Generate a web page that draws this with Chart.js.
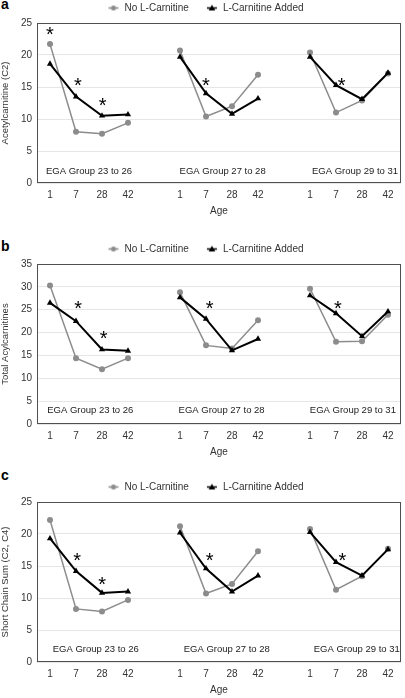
<!DOCTYPE html>
<html>
<head>
<meta charset="utf-8">
<script src="https://cdn.jsdelivr.net/npm/chart.js@4.4.1/dist/chart.umd.min.js"></script>
<style>
  html, body { margin: 0; padding: 0; background: #fff; overflow: hidden; width: 405px; height: 698px; }
  .panel { position: absolute; left: 0; width: 405px; height: 223px; }
  .tag { position: absolute; left: 1px; font: bold 14px "Liberation Sans", Arial, sans-serif; line-height: 14px; color: #000; }
</style>
</head>
<body>
<div class="tag" style="top:-3px">a</div>
<div class="panel" style="top:-4px"><canvas id="chartA" width="405" height="223"></canvas></div>
<div class="tag" style="top:239px">b</div>
<div class="panel" style="top:237px"><canvas id="chartB" width="405" height="223"></canvas></div>
<div class="tag" style="top:468px">c</div>
<div class="panel" style="top:475px"><canvas id="chartC" width="405" height="223"></canvas></div>

<script>
// ages sampled in each EGA group, and the group names
const ages = ['1', '7', '28', '42']
const groupNames = ['EGA Group 23 to 26', 'EGA Group 27 to 28', 'EGA Group 29 to 31']

// a: Acetylcarnitine (C2)
const acetylNo = [21.7, 8.0, 7.7, 9.4, 20.7, 10.4, 12.0, 16.9, 20.4, 11.0, 12.9, 17.1]
const acetylAdded = [18.6, 13.5, 10.5, 10.7, 19.7, 14.0, 10.8, 13.2, 19.7, 15.3, 13.1, 17.2]
// b: Total Acylcarnitines
const totalNo = [30.3, 14.4, 12.0, 14.4, 28.8, 17.2, 16.5, 22.7, 29.6, 18.0, 18.1, 23.9]
const totalAdded = [26.5, 22.5, 16.3, 16.0, 27.7, 23.0, 16.1, 18.6, 28.1, 24.2, 19.2, 24.6]
// c: Short Chain Sum (C2, C4)
const shortNo = [22.2, 8.3, 7.9, 9.7, 21.2, 10.7, 12.2, 17.3, 20.8, 11.3, 13.4, 17.7]
const shortAdded = [19.3, 14.2, 10.8, 11.0, 20.2, 14.6, 11.0, 13.5, 20.3, 15.6, 13.5, 17.6]

// significance stars: [category index, value]
const starsA = [[0, 24.0], [1.07, 16.0], [2.02, 12.9], [6.0, 16.0], [11.22, 16.0]]
const starsB = [[1.08, 26.3], [2.06, 19.9], [6.14, 26.3], [11.07, 26.3]]
const starsC = [[1.04, 16.6], [2.01, 13.0], [6.14, 16.6], [11.25, 16.6]]

const FONT = '"Liberation Sans", Arial, sans-serif'
Chart.defaults.font.family = FONT
Chart.defaults.color = '#333'

// 4 ages, a blank slot, 4 ages, a blank slot, 4 ages
const labels = [...ages, '', ...ages, '', ...ages]
function withGaps(vals) {
    return [...vals.slice(0, 4), null, ...vals.slice(4, 8), null, ...vals.slice(8)]
}

function legendMark(color, style) {
    const c = document.createElement('canvas')
    c.width = 22
    c.height = 9
    const g = c.getContext('2d')
    g.strokeStyle = color
    g.fillStyle = color
    g.lineWidth = 1.5
    g.beginPath()
    g.moveTo(11, 4.5)
    g.lineTo(21, 4.5)
    g.stroke()
    g.beginPath()
    if (style === 'circle') {
        g.arc(16, 4.5, 2.5, 0, Math.PI * 2)
    } else {
        g.moveTo(16, 1.3)
        g.lineTo(19.3, 7)
        g.lineTo(12.7, 7)
        g.closePath()
    }
    g.fill()
    return c
}
const marks = [legendMark('#8c8c8c', 'circle'), legendMark('#000', 'triangle')]

const frameAndNotes = {
    id: 'frameAndNotes',
    beforeDatasetsDraw(chart) {
        const {ctx, chartArea: a} = chart
        ctx.save()
        ctx.strokeStyle = '#505050'
        ctx.lineWidth = 1
        ctx.strokeRect(Math.round(a.left) + 0.5, Math.round(a.top) + 0.5,
            Math.round(a.right - a.left) - 1, Math.round(a.bottom - a.top) - 1)
        ctx.restore()
    },
    afterDatasetsDraw(chart, args, opts) {
        const {ctx} = chart
        const x = chart.scales.x
        const y = chart.scales.y
        ctx.save()
        ctx.fillStyle = '#222'
        ctx.textAlign = 'center'
        ctx.textBaseline = 'middle'
        ctx.font = '9.5px ' + FONT
        opts.groupAt.forEach((pos, i) => {
            ctx.fillText(groupNames[i], x.getPixelForValue(pos), y.getPixelForValue(opts.groupY))
        })
        ctx.fillStyle = '#000'
        ctx.textBaseline = 'alphabetic'
        ctx.font = '20px ' + FONT
        opts.stars.forEach(([xi, v]) => {
            ctx.fillText('*', x.getPixelForValue(xi), y.getPixelForValue(v) + 11.7)
        })
        ctx.restore()
    }
}

function makePanel(id, yTitle, yMax, noVals, addedVals, stars, groupAt, groupY) {
    return new Chart(document.getElementById(id), {
        type: 'line',
        data: {
            labels: labels,
            datasets: [{
                label: 'No L-Carnitine',
                data: withGaps(noVals),
                borderColor: '#8c8c8c',
                backgroundColor: '#8c8c8c',
                borderWidth: 1.5,
                pointStyle: 'circle',
                pointRadius: 3,
                pointBorderWidth: 0,
                order: 2
            }, {
                label: 'L-Carnitine Added',
                data: withGaps(addedVals),
                borderColor: '#000',
                backgroundColor: '#000',
                borderWidth: 2,
                pointStyle: 'triangle',
                pointRadius: 3.6,
                pointBorderWidth: 0,
                order: 1
            }]
        },
        plugins: [frameAndNotes],
        options: {
            responsive: false,
            animation: false,
            spanGaps: false,
            layout: { padding: { left: 0, right: 4, top: 0, bottom: 0 } },
            plugins: {
                legend: {
                    position: 'top',
                    labels: {
                        usePointStyle: true,
                        pointStyleWidth: 22,
                        padding: 7,
                        color: '#333',
                        font: { size: 10 },
                        generateLabels(chart) {
                            const items = Chart.defaults.plugins.legend.labels.generateLabels(chart)
                            items.sort((p, q) => p.datasetIndex - q.datasetIndex)
                            items.forEach(it => { it.pointStyle = marks[it.datasetIndex] })
                            return items
                        }
                    }
                },
                tooltip: { enabled: false },
                frameAndNotes: { stars: stars, groupAt: groupAt, groupY: groupY }
            },
            scales: {
                x: {
                    offset: true,
                    grid: { display: false, drawTicks: false, offset: true },
                    border: { display: false },
                    ticks: { autoSkip: false, maxRotation: 0, padding: 6, color: '#333', font: { size: 10 } },
                    title: { display: true, text: 'Age', color: '#333', font: { size: 10 }, padding: { top: 0, bottom: 2 } },
                    afterFit(s) { s.height = 36 }
                },
                y: {
                    min: 0,
                    max: yMax,
                    grid: { color: '#e6e6e6', drawTicks: false },
                    border: { display: false },
                    ticks: { stepSize: 5, padding: 5, color: '#333', font: { size: 10 } },
                    title: { display: true, text: yTitle, color: '#333', font: { size: 9.5 }, padding: { top: 0, bottom: 0 } },
                    afterFit(s) { s.width = 37 }
                }
            }
        }
    })
}

makePanel('chartA', 'Acetylcarnitine (C2)', 25, acetylNo, acetylAdded, starsA, [1.5, 6.64, 11.73], 1.83)
makePanel('chartB', 'Total Acylcarnitines', 35, totalNo, totalAdded, starsB, [1.55, 6.6, 11.65], 2.9)
makePanel('chartC', 'Short Chain Sum (C2, C4)', 25, shortNo, shortAdded, starsC, [1.76, 6.8, 11.8], 2.03)
</script>
</body>
</html>
